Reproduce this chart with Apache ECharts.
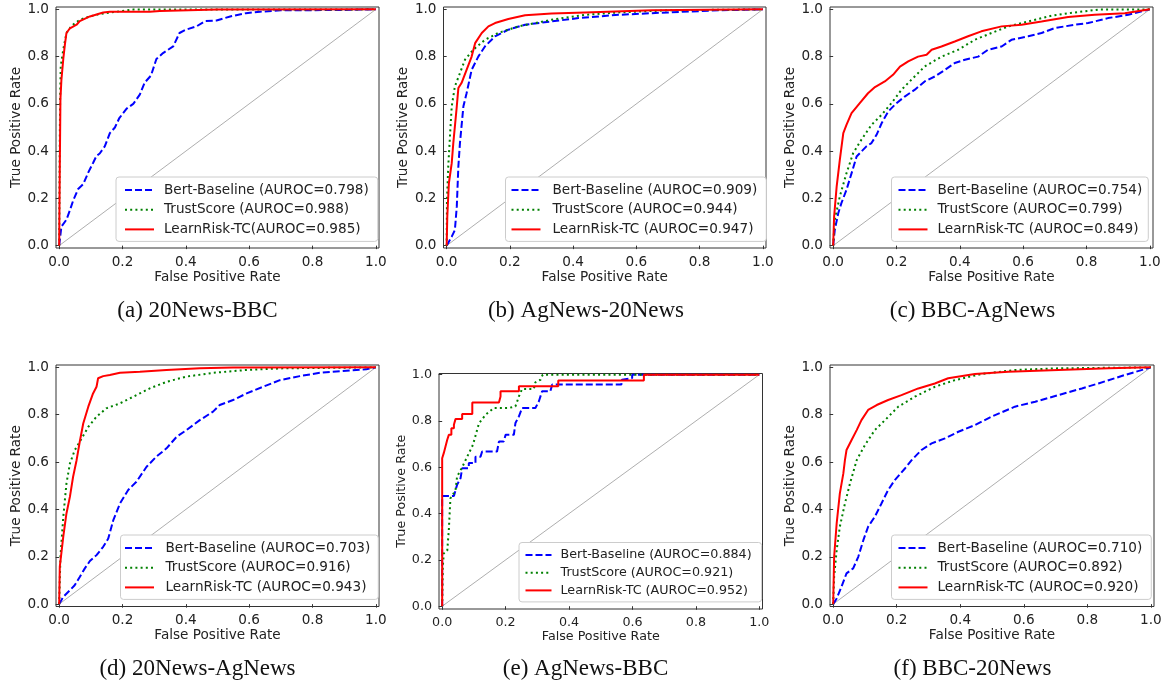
<!DOCTYPE html>
<html><head><meta charset="utf-8">
<script src="https://cdn.jsdelivr.net/npm/echarts@6/dist/echarts.min.js"></script>
<style>html,body{margin:0;padding:0;background:#fff}#c{width:1168px;height:686px}</style>
</head><body><div id="c"></div>
<script>
// ---------- DATA ----------
const tickValues = [0, 0.2, 0.4, 0.6, 0.8, 1.0];
const tickLabels = ['0.0', '0.2', '0.4', '0.6', '0.8', '1.0'];
const captions = ['(a) 20News-BBC', '(b) AgNews-20News', '(c) BBC-AgNews', '(d) 20News-AgNews', '(e) AgNews-BBC', '(f) BBC-20News'];
const legendNames = [
  ['Bert-Baseline (AUROC=0.798)', 'TrustScore (AUROC=0.988)', 'LearnRisk-TC(AUROC=0.985)'],
  ['Bert-Baseline (AUROC=0.909)', 'TrustScore (AUROC=0.944)', 'LearnRisk-TC (AUROC=0.947)'],
  ['Bert-Baseline (AUROC=0.754)', 'TrustScore (AUROC=0.799)', 'LearnRisk-TC (AUROC=0.849)'],
  ['Bert-Baseline (AUROC=0.703)', 'TrustScore (AUROC=0.916)', 'LearnRisk-TC (AUROC=0.943)'],
  ['Bert-Baseline (AUROC=0.884)', 'TrustScore (AUROC=0.921)', 'LearnRisk-TC (AUROC=0.952)'],
  ['Bert-Baseline (AUROC=0.710)', 'TrustScore (AUROC=0.892)', 'LearnRisk-TC (AUROC=0.920)']
];
const diagonal = [[0, 0], [1, 1]];

// (a) 20News-BBC
const a_bert = [[0,0],[0.007,0.08],[0.023,0.11],[0.034,0.15],[0.044,0.19],[0.06,0.24],[0.076,0.26],[0.092,0.31],[0.107,0.35],[0.118,0.38],[0.128,0.39],[0.144,0.42],[0.16,0.476],[0.176,0.50],[0.19,0.54],[0.213,0.58],[0.234,0.60],[0.255,0.64],[0.27,0.69],[0.29,0.72],[0.307,0.79],[0.328,0.815],[0.36,0.843],[0.38,0.90],[0.40,0.914],[0.434,0.928],[0.46,0.95],[0.497,0.953],[0.54,0.97],[0.59,0.984],[0.634,0.99],[0.70,0.996],[0.865,0.997],[1,1]];
const a_trust = [[0,0],[0.002,0.45],[0.003,0.62],[0.005,0.76],[0.013,0.83],[0.023,0.9],[0.039,0.93],[0.065,0.956],[0.097,0.97],[0.128,0.98],[0.18,0.99],[0.234,0.999],[1,1]];
const a_learn = [[0,0],[0.002,0.33],[0.004,0.62],[0.007,0.70],[0.013,0.79],[0.018,0.85],[0.023,0.9],[0.034,0.92],[0.055,0.935],[0.065,0.95],[0.097,0.97],[0.139,0.987],[0.16,0.99],[0.286,0.99],[0.318,0.993],[0.5,0.999],[1,1]];

// (b) AgNews-20News
const b_bert = [[0,0],[0.016,0.038],[0.026,0.066],[0.032,0.165],[0.037,0.335],[0.042,0.434],[0.053,0.59],[0.063,0.645],[0.079,0.744],[0.10,0.80],[0.121,0.843],[0.153,0.886],[0.195,0.914],[0.248,0.935],[0.332,0.949],[0.417,0.963],[0.543,0.977],[0.70,0.987],[0.86,0.996],[1,1]];
const b_trust = [[0,0],[0.001,0.19],[0.005,0.335],[0.011,0.476],[0.016,0.589],[0.026,0.674],[0.042,0.73],[0.058,0.787],[0.084,0.829],[0.121,0.871],[0.163,0.90],[0.227,0.928],[0.332,0.956],[0.438,0.977],[0.543,0.987],[0.70,0.996],[1,1]];
const b_learn = [[0,0],[0.002,0.123],[0.007,0.264],[0.016,0.349],[0.021,0.434],[0.032,0.589],[0.037,0.667],[0.047,0.688],[0.063,0.744],[0.079,0.80],[0.09,0.857],[0.111,0.90],[0.132,0.928],[0.153,0.942],[0.195,0.959],[0.248,0.975],[0.332,0.982],[0.438,0.987],[0.649,0.996],[1,1]];

// (c) BBC-AgNews
const c_bert = [[0,0],[0.005,0.066],[0.016,0.137],[0.026,0.18],[0.042,0.236],[0.058,0.306],[0.074,0.377],[0.089,0.398],[0.105,0.42],[0.121,0.434],[0.137,0.469],[0.153,0.518],[0.174,0.568],[0.2,0.603],[0.226,0.631],[0.258,0.66],[0.289,0.695],[0.321,0.716],[0.353,0.744],[0.384,0.773],[0.416,0.787],[0.458,0.80],[0.489,0.829],[0.532,0.843],[0.563,0.871],[0.616,0.886],[0.658,0.90],[0.70,0.921],[0.763,0.935],[0.805,0.942],[0.868,0.963],[0.932,0.977],[1,1]];
const c_trust = [[0,0],[0.005,0.109],[0.021,0.208],[0.042,0.306],[0.063,0.391],[0.089,0.448],[0.121,0.511],[0.153,0.554],[0.184,0.603],[0.216,0.66],[0.247,0.702],[0.289,0.758],[0.342,0.80],[0.395,0.829],[0.447,0.871],[0.5,0.90],[0.553,0.928],[0.616,0.949],[0.689,0.973],[0.763,0.987],[0.837,0.999],[1,1]];
const c_learn = [[0,0],[0.003,0.123],[0.011,0.25],[0.021,0.363],[0.032,0.476],[0.042,0.511],[0.058,0.561],[0.084,0.603],[0.11,0.645],[0.132,0.671],[0.163,0.695],[0.189,0.723],[0.211,0.758],[0.237,0.78],[0.268,0.80],[0.295,0.808],[0.311,0.829],[0.342,0.843],[0.384,0.864],[0.426,0.886],[0.468,0.907],[0.532,0.928],[0.595,0.935],[0.658,0.949],[0.742,0.968],[0.826,0.977],[0.921,0.984],[1,1]];

// (d) 20News-AgNews
const d_bert = [[0,0],[0.013,0.031],[0.034,0.059],[0.049,0.08],[0.065,0.115],[0.081,0.151],[0.097,0.182],[0.118,0.207],[0.139,0.242],[0.155,0.277],[0.171,0.355],[0.192,0.425],[0.218,0.482],[0.244,0.517],[0.276,0.58],[0.307,0.623],[0.339,0.658],[0.371,0.707],[0.402,0.735],[0.444,0.777],[0.486,0.813],[0.507,0.841],[0.549,0.862],[0.592,0.89],[0.644,0.918],[0.697,0.946],[0.76,0.963],[0.823,0.977],[0.907,0.986],[0.97,0.992],[1,1]];
const d_trust = [[0,0],[0.004,0.2],[0.013,0.369],[0.023,0.51],[0.034,0.594],[0.049,0.65],[0.071,0.70],[0.092,0.749],[0.118,0.792],[0.149,0.827],[0.192,0.848],[0.234,0.876],[0.286,0.911],[0.339,0.939],[0.402,0.961],[0.486,0.977],[0.592,0.989],[0.707,0.996],[1,1]];
const d_learn = [[0,0],[0.002,0.158],[0.013,0.285],[0.023,0.383],[0.034,0.454],[0.044,0.538],[0.055,0.608],[0.065,0.686],[0.076,0.763],[0.092,0.834],[0.107,0.89],[0.118,0.918],[0.123,0.954],[0.139,0.963],[0.16,0.968],[0.192,0.977],[0.255,0.982],[0.339,0.989],[0.444,0.996],[0.549,0.999],[1,1]];

// (e) AgNews-BBC
const e_bert = [[0,0],[0,0.476],[0.037,0.476],[0.047,0.524],[0.058,0.553],[0.063,0.596],[0.084,0.596],[0.084,0.618],[0.105,0.618],[0.105,0.646],[0.121,0.646],[0.126,0.668],[0.173,0.668],[0.179,0.711],[0.194,0.711],[0.2,0.74],[0.226,0.74],[0.231,0.791],[0.242,0.82],[0.252,0.856],[0.294,0.856],[0.305,0.885],[0.315,0.928],[0.341,0.928],[0.347,0.957],[0.565,0.957],[0.567,0.978],[0.599,0.985],[0.599,1],[1,1]];
const e_trust = [[0,0],[0.002,0.17],[0.005,0.228],[0.016,0.24],[0.021,0.33],[0.026,0.466],[0.042,0.50],[0.047,0.56],[0.063,0.60],[0.079,0.646],[0.097,0.697],[0.116,0.79],[0.137,0.827],[0.163,0.856],[0.21,0.856],[0.231,0.863],[0.242,0.906],[0.252,0.938],[0.289,0.938],[0.294,0.967],[0.31,0.978],[0.317,1],[1,1]];
const e_learn = [[0,0],[0,0.639],[0.005,0.639],[0.005,0.661],[0.0105,0.661],[0.0105,0.69],[0.016,0.69],[0.016,0.719],[0.021,0.719],[0.021,0.74],[0.029,0.74],[0.029,0.769],[0.037,0.769],[0.037,0.784],[0.042,0.784],[0.042,0.808],[0.063,0.808],[0.063,0.83],[0.095,0.83],[0.095,0.88],[0.179,0.88],[0.184,0.906],[0.184,0.928],[0.242,0.928],[0.242,0.95],[0.366,0.95],[0.366,0.975],[0.636,0.975],[0.636,1],[1,1]];

// (f) BBC-20News
const f_bert = [[0,0],[0.011,0.024],[0.026,0.073],[0.042,0.13],[0.063,0.151],[0.079,0.2],[0.095,0.27],[0.11,0.327],[0.131,0.369],[0.152,0.425],[0.173,0.482],[0.194,0.524],[0.226,0.573],[0.247,0.608],[0.278,0.651],[0.31,0.679],[0.352,0.70],[0.394,0.728],[0.446,0.756],[0.499,0.792],[0.572,0.834],[0.636,0.855],[0.709,0.883],[0.783,0.911],[0.835,0.932],[0.919,0.968],[1,1]];
const f_trust = [[0,0],[0.003,0.115],[0.011,0.228],[0.021,0.327],[0.037,0.425],[0.053,0.51],[0.074,0.608],[0.1,0.672],[0.131,0.735],[0.163,0.777],[0.205,0.834],[0.257,0.876],[0.32,0.918],[0.383,0.946],[0.467,0.972],[0.572,0.989],[0.709,0.996],[1,1]];
const f_learn = [[0,0],[0.003,0.2],[0.011,0.341],[0.021,0.468],[0.032,0.552],[0.037,0.608],[0.042,0.651],[0.058,0.693],[0.074,0.735],[0.089,0.777],[0.11,0.82],[0.137,0.841],[0.173,0.862],[0.215,0.883],[0.268,0.911],[0.32,0.932],[0.362,0.954],[0.446,0.972],[0.551,0.982],[0.709,0.989],[0.867,0.996],[1,1]];

const panelData = [
  [a_bert, a_trust, a_learn],
  [b_bert, b_trust, b_learn],
  [c_bert, c_trust, c_learn],
  [d_bert, d_trust, d_learn],
  [e_bert, e_trust, e_learn],
  [f_bert, f_trust, f_learn]
];

// ---------- LAYOUT ----------
const FONT = '"DejaVu Sans", sans-serif';
const grids = [
  {left: 56, top: 7, width: 323, height: 241},
  {left: 443.5, top: 7, width: 322.5, height: 241},
  {left: 830, top: 7, width: 323, height: 241},
  {left: 56, top: 365, width: 323, height: 241.5},
  {left: 439, top: 373.5, width: 323.5, height: 235.5},
  {left: 830, top: 365, width: 324, height: 241.5}
];
const yRanges = [[-0.01,1.01],[-0.01,1.01],[-0.01,1.01],[-0.01,1.01],[-0.012,1.005],[-0.01,1.01]];
const legendLayout = [
  {left: 116, top: 177, padL: 8, padR: 9, textPad: 5, iconW: 29},
  {left: 505.5, top: 177, padL: 5, padR: 9, textPad: 7, iconW: 29},
  {left: 891.5, top: 177, padL: 6, padR: 6, textPad: 5, iconW: 29},
  {left: 120.5, top: 535, padL: 3.5, padR: 8, textPad: 6.5, iconW: 29},
  {left: 519, top: 542.5, padL: 5.5, padR: 10, textPad: 4, iconW: 26},
  {left: 891.5, top: 535, padL: 6, padR: 9, textPad: 5, iconW: 29}
];
const captionPos = [[197.5, 311], [586, 311], [972.5, 311], [197.5, 669], [585.5, 669], [972.5, 669]];
const yNameGap = [31, 33, 31, 31, 30, 31];
const xNameGap = [22, 22, 22, 22, 19, 22];
const fs = i => (i === 4 ? 12.7 : 13.6);

const styles = [
  {color: '#0000ff', type: [7, 3]},
  {color: '#008000', type: [2, 3.2]},
  {color: '#ff0000', type: 'solid'}
];

const fmt = v => tickLabels[tickValues.findIndex(t => Math.abs(t - v) < 1e-9)];

const option = {
  animation: false,
  backgroundColor: '#fff',
  grid: grids.map(g => Object.assign({show: true, borderColor: '#333', borderWidth: 1, backgroundColor: 'transparent', containLabel: false}, g)),
  xAxis: grids.map((g, i) => ({
    type: 'value', gridIndex: i, min: -0.01, max: 1.01,
    name: 'False Positive Rate', nameLocation: 'middle', nameGap: xNameGap[i],
    nameTextStyle: {fontFamily: FONT, fontSize: fs(i), color: '#222'},
    axisLine: {show: false},
    axisTick: {show: true, customValues: tickValues, length: 3.5, lineStyle: {color: '#333'}},
    axisLabel: {customValues: tickValues, formatter: fmt, margin: 7, fontFamily: FONT, fontSize: fs(i), color: '#222'},
    splitLine: {show: false}
  })),
  yAxis: grids.map((g, i) => ({
    type: 'value', gridIndex: i, min: yRanges[i][0], max: yRanges[i][1],
    name: 'True Positive Rate', nameLocation: 'middle', nameGap: yNameGap[i],
    nameTextStyle: {fontFamily: FONT, fontSize: fs(i), color: '#222'},
    axisLine: {show: false},
    axisTick: {show: true, customValues: tickValues, length: 3.5, lineStyle: {color: '#333'}},
    axisLabel: {customValues: tickValues, formatter: fmt, margin: 7, fontFamily: FONT, fontSize: fs(i), color: '#222'},
    splitLine: {show: false}
  })),
  legend: legendLayout.map((p, i) => ({
    left: p.left, top: p.top, orient: 'vertical',
    data: legendNames[i],
    itemWidth: p.iconW, itemHeight: 14, itemGap: i === 4 ? 4.7 : 5.7,
    padding: [6, p.padR, 5, p.padL],
    backgroundColor: '#fff', borderColor: '#cccccc', borderWidth: 1, borderRadius: 3,
    selectedMode: false,
    itemStyle: {opacity: 0},
    textStyle: {fontFamily: FONT, fontSize: fs(i), color: '#222', padding: [0, 0, 0, p.textPad]}
  })),
  series: [],
  graphic: captions.map((t, i) => ({
    type: 'text', x: captionPos[i][0], y: captionPos[i][1],
    style: {text: t, font: '23px "Liberation Serif", "Times New Roman", serif', fill: '#111', textAlign: 'center', textVerticalAlign: 'middle'}
  }))
};

panelData.forEach((arrs, i) => {
  option.series.push({
    type: 'line', xAxisIndex: i, yAxisIndex: i, data: diagonal, silent: true,
    symbol: 'none', lineStyle: {color: '#999', width: 0.8}, z: 1
  });
  arrs.forEach((d, k) => {
    option.series.push({
      type: 'line', name: legendNames[i][k], xAxisIndex: i, yAxisIndex: i, data: d,
      symbol: 'none', showSymbol: false, smooth: false, z: 2 + k,
      color: styles[k].color,
      lineStyle: {color: styles[k].color, width: 2, type: styles[k].type}
    });
  });
});

const chart = echarts.init(document.getElementById('c'), null, {renderer: 'canvas'});
chart.setOption(option);
</script>
</body></html>
